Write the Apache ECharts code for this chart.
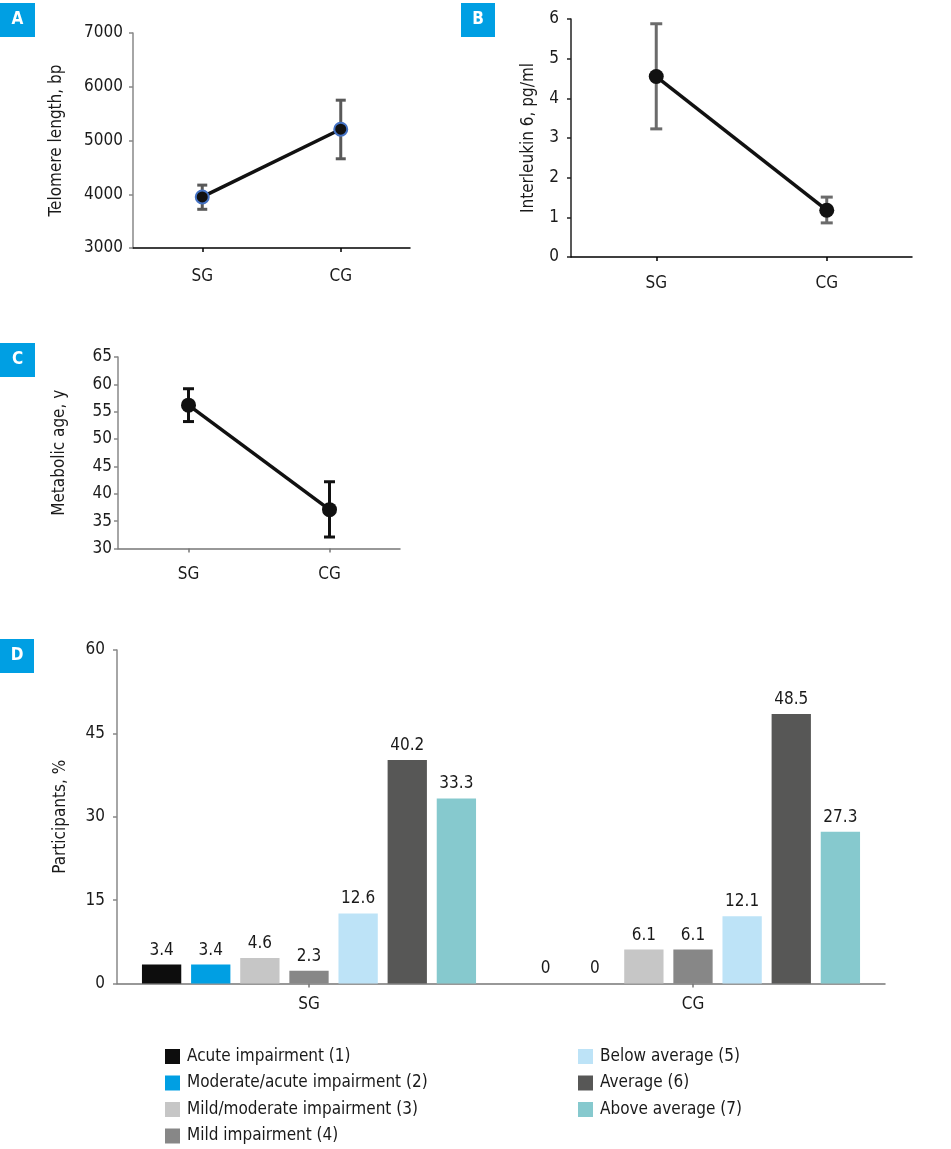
<!DOCTYPE html>
<html>
<head>
<meta charset="utf-8">
<script src="https://cdn.jsdelivr.net/npm/echarts@6/dist/echarts.min.js"></script>
<style>
html,body{margin:0;padding:0;background:#fff;}
#chart{width:951px;height:1149px;}
</style>
</head>
<body>
<div id="chart"></div>
<script>
// ---------- data ----------
var groups = ['SG', 'CG'];

var telomereMean = [3950, 5210];
var telomereLow  = [3720, 4660];
var telomereHigh = [4170, 5750];
var telomereTicks = [3000, 7000, 1000];

var il6Mean = [4.55, 1.18];
var il6Low  = [3.23, 0.86];
var il6High = [5.88, 1.51];
var il6Ticks = [0, 6, 1];

var ageMean = [56.2, 37.1];
var ageLow  = [53.2, 32.1];
var ageHigh = [59.2, 42.2];
var ageTicks = [30, 65, 5];

var cogNames = ['Acute impairment (1)', 'Moderate/acute impairment (2)', 'Mild/moderate impairment (3)', 'Mild impairment (4)', 'Below average (5)', 'Average (6)', 'Above average (7)'];
var cogSG = [3.4, 3.4, 4.6, 2.3, 12.6, 40.2, 33.3];
var cogCG = [0, 0, 6.1, 6.1, 12.1, 48.5, 27.3];
var cogTicks = [0, 60, 15];

// ---------- styles ----------
var FONT = '"Liberation Sans Narrow", "DejaVu Sans Condensed", "Roboto", sans-serif';
var cogColors = ['#0d0d0d', '#009fe3', '#c6c6c6', '#878787', '#bde3f7', '#575756', '#86c9ce'];
var BADGE = '#009fe3';

var chart = echarts.init(document.getElementById('chart'), null, {renderer: 'canvas'});

function yAxisDef(gi, ticks, name, nameGap, lineColor, margin) {
  return {
    gridIndex: gi, type: 'value', min: ticks[0], max: ticks[1], interval: ticks[2],
    name: name, nameLocation: 'middle', nameGap: nameGap,
    nameTextStyle: {fontFamily: FONT, fontSize: 17, color: '#1a1a1a'},
    axisLine: {show: true, lineStyle: {color: lineColor, width: 1.5}},
    axisTick: {show: true, length: 4, lineStyle: {color: lineColor, width: 1.5}},
    axisLabel: {fontFamily: FONT, fontSize: 17, color: '#1a1a1a', margin: margin,
                formatter: function (v) { return String(v); }},
    splitLine: {show: false}
  };
}
function xAxisDef(gi, lineColor, margin) {
  return {
    gridIndex: gi, type: 'category', data: groups, boundaryGap: true,
    axisLine: {show: true, lineStyle: {color: lineColor, width: 1.5}},
    axisTick: {show: true, alignWithLabel: true, length: 4, lineStyle: {color: lineColor, width: 1.5}},
    axisLabel: {fontFamily: FONT, fontSize: 17, color: '#1a1a1a', margin: margin},
    splitLine: {show: false}
  };
}
function errSeries(gi, low, high, color, cap, width) {
  var data = low.map(function (l, i) { return [i, l, high[i]]; });
  return {
    type: 'custom', xAxisIndex: gi, yAxisIndex: gi, z: 2, silent: true,
    data: data, encode: {x: 0, y: [1, 2]},
    renderItem: function (params, api) {
      var lo = api.coord([api.value(0), api.value(1)]);
      var hi = api.coord([api.value(0), api.value(2)]);
      var st = {stroke: color, lineWidth: width};
      return {type: 'group', children: [
        {type: 'line', shape: {x1: lo[0], y1: lo[1], x2: hi[0], y2: hi[1]}, style: st},
        {type: 'line', shape: {x1: lo[0] - cap / 2, y1: lo[1], x2: lo[0] + cap / 2, y2: lo[1]}, style: st},
        {type: 'line', shape: {x1: hi[0] - cap / 2, y1: hi[1], x2: hi[0] + cap / 2, y2: hi[1]}, style: st}
      ]};
    }
  };
}
function lineSeries(gi, data, size, border) {
  return {
    type: 'line', xAxisIndex: gi, yAxisIndex: gi, z: 5, data: data,
    symbol: 'circle', symbolSize: size,
    lineStyle: {color: '#111', width: 3.5},
    itemStyle: {color: '#111', borderColor: border || '#111', borderWidth: border ? 2 : 0},
    label: {show: false}, silent: true
  };
}
function badge(x, y, w, h, letter) {
  return {type: 'group', left: x, top: y, children: [
    {type: 'rect', shape: {x: 0, y: 0, width: w, height: h}, style: {fill: BADGE}},
    {type: 'text', x: w / 2, y: h / 2, style: {text: letter, fill: '#fff', font: 'bold 17px ' + FONT, textAlign: 'center', textVerticalAlign: 'middle'}}
  ]};
}

var barSeries = cogNames.map(function (n, i) {
  return {
    name: n, type: 'bar', xAxisIndex: 3, yAxisIndex: 3,
    data: [cogSG[i], cogCG[i]],
    barGap: '25%', barCategoryGap: '13%',
    itemStyle: {color: cogColors[i]},
    label: {show: true, position: 'top', distance: 6, fontFamily: FONT, fontSize: 17, color: '#1a1a1a'},
    silent: true
  };
});

var legendText = {fontFamily: FONT, fontSize: 17, color: '#1a1a1a', padding: [0, 0, 0, 2]};

var option = {
  animation: false,
  color: cogColors,
  grid: [
    {left: 133, top: 33, width: 277, height: 215},
    {left: 571, top: 19, width: 341, height: 238},
    {left: 118, top: 357, width: 282, height: 191.5},
    {left: 117, top: 650, width: 768, height: 333.5}
  ],
  xAxis: [
    xAxisDef(0, '#000', 20),
    xAxisDef(1, '#000', 18),
    xAxisDef(2, '#777', 18),
    xAxisDef(3, '#777', 13)
  ],
  yAxis: [
    yAxisDef(0, telomereTicks, 'Telomere length, bp', 68, '#888', 10),
    yAxisDef(1, il6Ticks, 'Interleukin 6, pg/ml', 34, '#222', 12),
    yAxisDef(2, ageTicks, 'Metabolic age, y', 50, '#888', 6),
    yAxisDef(3, cogTicks, 'Participants, %', 48, '#888', 12)
  ],
  legend: [
    {orient: 'vertical', left: 165, top: 1048, padding: 0, itemWidth: 15, itemHeight: 15, itemGap: 9.5, icon: 'rect',
     selectedMode: false, textStyle: legendText, data: cogNames.slice(0, 4)},
    {orient: 'vertical', left: 578, top: 1048, padding: 0, itemWidth: 15, itemHeight: 15, itemGap: 9.5, icon: 'rect',
     selectedMode: false, textStyle: legendText, data: cogNames.slice(4)}
  ],
  graphic: [
    badge(0, 3, 35, 34, 'A'),
    badge(461, 3, 34, 34, 'B'),
    badge(0, 343, 35, 34, 'C'),
    badge(0, 639, 34, 34, 'D')
  ],
  series: [
    errSeries(0, telomereLow, telomereHigh, '#595959', 10, 3),
    lineSeries(0, telomereMean, 13, '#4472c4'),
    errSeries(1, il6Low, il6High, '#6b6b6b', 12, 3),
    lineSeries(1, il6Mean, 15),
    errSeries(2, ageLow, ageHigh, '#111', 11, 3),
    lineSeries(2, ageMean, 15)
  ].concat(barSeries)
};
chart.setOption(option);
</script>
</body>
</html>
